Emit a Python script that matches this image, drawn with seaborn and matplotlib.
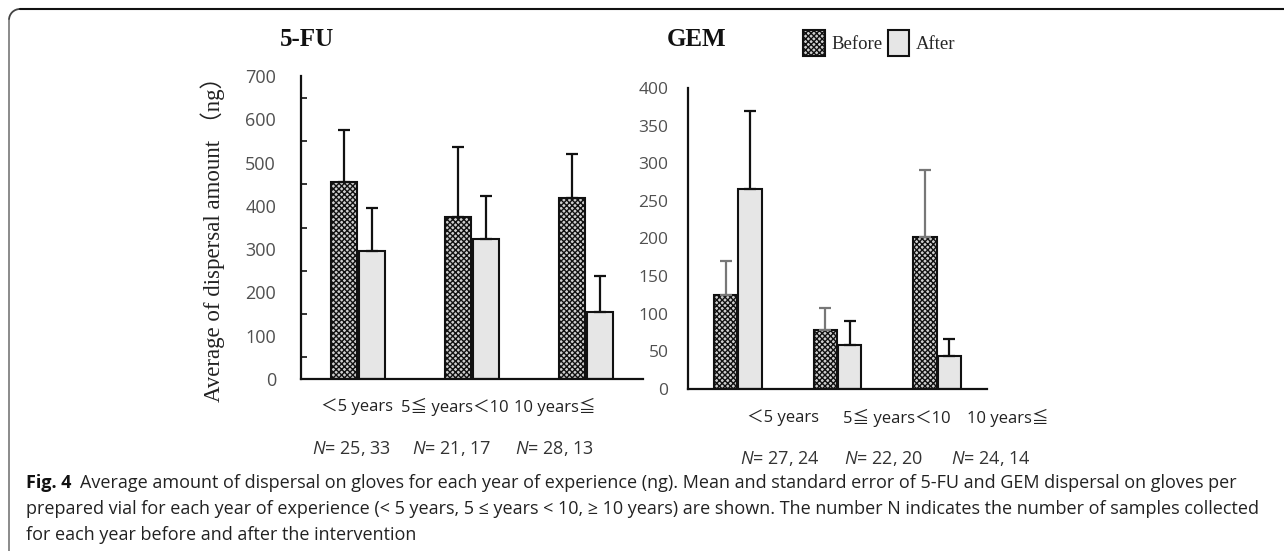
import numpy as np
import pandas as pd
import seaborn as sns
import matplotlib
matplotlib.use("Agg")
import matplotlib.pyplot as plt
from matplotlib.lines import Line2D
from matplotlib.patches import Arc

# ---------------- data ----------------
categories = ["<5 years", "5-10 years", ">=10 years"]
periods = ["Before", "After"]

fu_before = [454, 375, 417]
fu_before_se = [122, 160, 102]
fu_after = [296, 323, 155]
fu_after_se = [100, 99, 83]

gem_before = [125, 78, 202]
gem_before_se = [45, 30, 89]
gem_after = [266, 58, 44]
gem_after_se = [103, 33, 23]

cat_labels = ["＜5 years", "5≦ years＜10", "10 years≦"]
fu_n = ["25, 33", "21, 17", "28, 13"]
gem_n = ["27, 24", "22, 20", "24, 14"]

fu_yticks = [0, 100, 200, 300, 400, 500, 600, 700]
fu_minor = [50, 150, 250, 350, 450, 550, 650]
gem_yticks = [0, 50, 100, 150, 200, 250, 300, 350, 400]

caption_lines = [
    "Average amount of dispersal on gloves for each year of experience (ng). Mean and standard error of 5-FU and GEM dispersal on gloves per",
    "prepared vial for each year of experience (< 5 years, 5 \u2264 years < 10, \u2265 10 years) are shown. The number N indicates the number of samples collected",
    "for each year before and after the intervention",
]

# ---------------- style ----------------
sns.set_style("white")
plt.rcParams["font.family"] = ["Open Sans", "Noto Sans CJK JP", "DejaVu Sans"]
plt.rcParams["mathtext.fontset"] = "custom"
plt.rcParams["mathtext.it"] = "Open Sans:italic"
plt.rcParams["mathtext.rm"] = "Open Sans"

W, H = 1284, 551
fig = plt.figure(figsize=(W / 100, H / 100), dpi=100)

def fx(px):
    return px / W

def fy(py):
    return 1 - py / H

ax1 = fig.add_axes([fx(301), fy(379), fx(643) - fx(301), fy(76) - fy(379)])
ax2 = fig.add_axes([fx(688), fy(389), fx(987) - fx(688), fy(88) - fy(389)])

palette = {"Before": "#cfcfcf", "After": "#e6e6e6"}

def draw(ax, before, bse, after, ase, ylim, yticks, err_colors):
    df = pd.DataFrame({
        "cat": categories * 2,
        "period": ["Before"] * 3 + ["After"] * 3,
        "value": list(before) + list(after),
    })
    sns.barplot(data=df, x="cat", y="value", hue="period", hue_order=periods,
                order=categories, palette=palette, width=0.49, gap=0.04,
                edgecolor="#111111", linewidth=1.5, legend=False, ax=ax,
                errorbar=None)
    for p in ax.containers[0]:
        p.set_hatch("xxxxxx")
    for cont, se, col in zip(ax.containers, [bse, ase], err_colors):
        xs = [p.get_x() + p.get_width() / 2 for p in cont]
        ys = [p.get_height() for p in cont]
        ax.errorbar(xs, ys, yerr=[np.zeros(len(se)), se], fmt="none",
                    ecolor=col, elinewidth=1.6, capsize=4, capthick=1.6, zorder=1)
    ax.set_ylim(*ylim)
    ax.set_xlim(-0.5, 2.5)
    ax.set_yticks(yticks)
    ax.set_xticks([])
    ax.set_xlabel("")
    ax.set_ylabel("")
    for s in ["top", "right"]:
        ax.spines[s].set_visible(False)
    for s in ["left", "bottom"]:
        ax.spines[s].set_color("#111111")
        ax.spines[s].set_linewidth(1.6)
    ax.patch.set_alpha(0)

draw(ax1, fu_before, fu_before_se, fu_after, fu_after_se, (0, 700), fu_yticks,
     ["#111111", "#111111"])
draw(ax2, gem_before, gem_before_se, gem_after, gem_after_se, (0, 400), gem_yticks,
     ["#777777", "#111111"])

ax1.set_yticks(fu_minor, minor=True)
ax1.tick_params(axis="y", which="major", length=0, pad=18, labelsize=13,
                labelcolor="#505050")
ax1.tick_params(axis="y", which="minor", direction="in", length=4, width=1.2,
                color="#111111", left=True)
ax2.tick_params(axis="y", which="major", length=0, pad=14, labelsize=12.5,
                labelcolor="#505050")

# titles
fig.text(fx(307), fy(40), "5-FU", family="Liberation Serif", weight="bold",
         fontsize=18, ha="center", va="center", color="#111111")
fig.text(fx(697), fy(40), "GEM", family="Liberation Serif", weight="bold",
         fontsize=18, ha="center", va="center", color="#111111")

# y label
fig.text(fx(213), fy(234), "Average of dispersal amount （ng）",
         family=["Liberation Serif", "Noto Sans CJK JP"], fontsize=16.5,
         rotation=90, ha="center", va="center", color="#222222")

# legend
handles = [ax1.containers[0][0], ax1.containers[1][0]]
leg = fig.legend(handles, periods, loc="center left",
                 bbox_to_anchor=(fx(803), fy(43)), ncol=2, frameon=False,
                 prop={"family": "Liberation Serif", "size": 13.5},
                 handlelength=1.15, handleheight=1.75, handletextpad=0.35,
                 columnspacing=0.3, borderaxespad=0, borderpad=0)

# category labels & N
fu_cat_x = [357, 455, 555]
gem_cat_x = [783, 897, 1008]
fu_n_x = [351, 452, 554]
gem_n_x = [780, 884, 991]
for x, t in zip(fu_cat_x, cat_labels):
    fig.text(fx(x), fy(407), t, ha="center", va="center", fontsize=12,
             color="#222222", family=["Open Sans", "Noto Sans CJK JP"])
for x, t in zip(gem_cat_x, cat_labels):
    fig.text(fx(x), fy(418), t, ha="center", va="center", fontsize=12,
             color="#222222", family=["Open Sans", "Noto Sans CJK JP"])
for x, t in zip(fu_n_x, fu_n):
    fig.text(fx(x), fy(448), r"$N$= " + t, ha="center", va="center",
             fontsize=13, color="#333333")
for x, t in zip(gem_n_x, gem_n):
    fig.text(fx(x), fy(458), r"$N$= " + t, ha="center", va="center",
             fontsize=13, color="#333333")

# caption
cap_fs = 13
cap_y = [483, 509, 535]
t0 = fig.text(fx(26), fy(cap_y[0]), "Fig. 4", weight="bold", fontsize=cap_fs,
              ha="left", va="center", color="#111111")
fig.canvas.draw()
bb = t0.get_window_extent()
fig.text(fx(bb.x1 + 9), fy(cap_y[0]), caption_lines[0], fontsize=cap_fs,
         ha="left", va="center", color="#222222")
for y, line in zip(cap_y[1:], caption_lines[1:]):
    fig.text(fx(26), fy(y), line, fontsize=cap_fs, ha="left", va="center",
             color="#222222")

# frame
fig.add_artist(Line2D([fx(20), fx(1284)], [fy(9), fy(9)], color="#111111",
                      lw=1.5, transform=fig.transFigure))
fig.add_artist(Line2D([fx(9), fx(9)], [fy(20), fy(551)], color="#777777",
                      lw=1.2, transform=fig.transFigure))
fig.add_artist(Arc((fx(20), fy(20)), 2 * 11 / W, 2 * 11 / H, theta1=90,
                   theta2=180, color="#444444", lw=1.3,
                   transform=fig.transFigure))

fig.savefig("out.png", dpi=100)
